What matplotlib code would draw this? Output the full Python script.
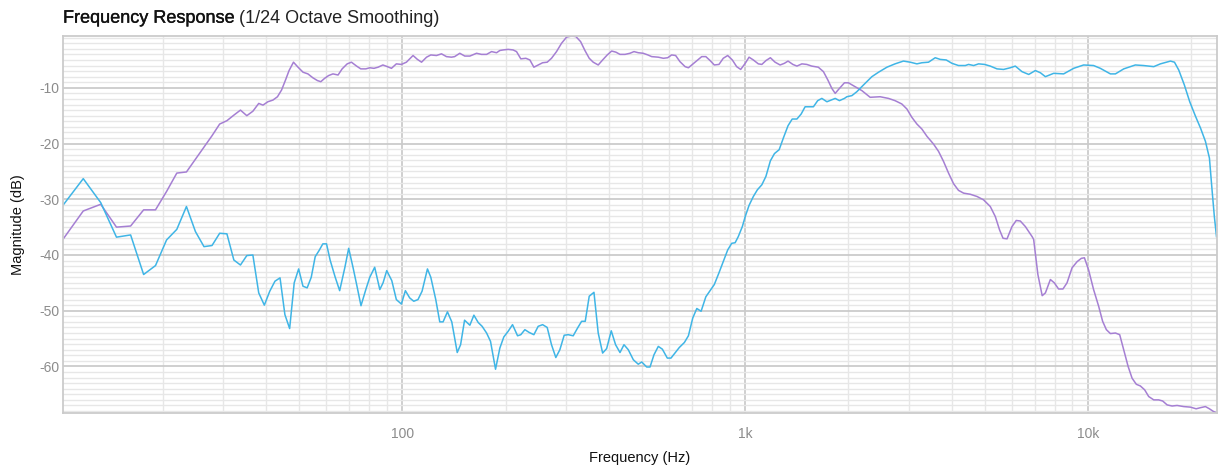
import matplotlib
matplotlib.use("Agg")
import matplotlib.pyplot as plt
import matplotlib.patheffects as pe
from matplotlib.ticker import FixedLocator, FixedFormatter, NullFormatter

plt.rcParams['font.family'] = ['Liberation Sans', 'DejaVu Sans']
plt.rcParams['axes.unicode_minus'] = False

# Low-frequency driver response (Hz, dB)
low_freq = [
    10.25, 11.72, 13.18, 14.65, 16.11, 17.58, 19.04, 20.51, 21.97, 23.44,
    24.90, 26.37, 27.83, 29.30, 30.76, 32.23, 33.69, 35.16, 36.62, 38.09,
    39.2, 40.5, 41.9, 43.2, 44.4, 45.6, 46.7, 48.1, 49.6, 51.3,
    53.0, 54.8, 56.5, 57.8, 59.3, 60.9, 62.7, 64.9, 66.7, 69.0,
    71.0, 73.5, 75.6, 78.2, 80.3, 82.6, 84.9, 87.7, 90.4, 92.9,
    96.0, 99.3, 102.7, 107.4, 110.6, 113.7, 117.6, 121.0, 125.7, 130.0,
    134.4, 139.0, 142.0, 147.0, 152.0, 157.3, 164.5, 170.1, 176.0, 182.0,
    188.2, 192.4, 196.7, 203.4, 210.3, 215.2, 221.5, 229.1, 235.4, 241.8,
    248.9, 256.4, 264.4, 272.2, 281.5, 291.2, 301.2, 311.5, 320.6, 330.9,
    340.7, 350.7, 360.2, 372.5, 383.7, 395.8, 407.7, 419.5, 431.2, 446.0,
    461.0, 473.7, 487.5, 504.0, 520.0, 533.5, 557.7, 577.0, 594.0, 610.0,
    626.6, 645.0, 667.7, 682.7, 714.0, 746.6, 767.5, 789.5, 812.4, 838.3,
    862.8, 888.8, 917.0, 944.0, 970.0, 1000, 1026, 1056, 1092, 1118,
    1150, 1184, 1222, 1264, 1301, 1333, 1377, 1415, 1463, 1512,
    1563, 1634, 1691, 1742, 1789, 1830, 1883, 1947, 2000, 2092,
    2189, 2314, 2475, 2618, 2735, 2863, 2962, 3063, 3168, 3276,
    3389, 3543, 3663, 3788, 3918, 4052, 4189, 4336, 4534, 4744,
    4957, 5186, 5364, 5520, 5650, 5804, 6000, 6175, 6345, 6564,
    6868, 6940, 7140, 7350, 7510, 7765, 7974, 8205, 8450, 8683,
    8983, 9290, 9560, 9760, 10040, 10380, 10740, 11030, 11310, 11620,
    12020, 12370, 12710, 13090, 13440, 13830, 14210, 14630, 15030, 15550,
    16070, 16510, 17010, 17590, 18190, 19010, 19890, 20670, 21280, 22000,
    22600, 23250, 23700,
]
low_db = [
    -37.1, -32.1, -30.9, -35.0, -34.8, -31.9, -31.9, -28.6, -25.3, -25.1,
    -22.8, -20.6, -18.6, -16.5, -15.9, -14.9, -14.0, -15.0, -14.2, -12.8,
    -13.1, -12.5, -12.2, -11.6, -10.4, -8.6, -6.9, -5.4, -6.3, -7.2,
    -7.5, -8.2, -8.7, -8.9, -8.3, -7.8, -7.5, -7.7, -6.6, -5.7,
    -5.4, -6.1, -6.6, -6.6, -6.4, -6.5, -6.3, -5.9, -6.2, -6.5,
    -5.7, -5.8, -5.4, -4.2, -4.9, -5.4, -4.5, -4.1, -4.2, -3.9,
    -4.4, -4.5, -4.4, -3.8, -4.3, -4.3, -3.8, -4.0, -4.0, -3.5,
    -3.7, -3.3, -3.2, -3.1, -3.2, -3.5, -4.8, -4.7, -5.0, -6.3,
    -5.9, -5.5, -5.4, -4.7, -3.5, -2.0, -0.9, -0.7, -0.8, -1.7,
    -3.3, -4.7, -5.4, -5.9, -5.0, -4.1, -3.4, -3.6, -4.0, -4.0,
    -3.8, -3.5, -3.7, -3.8, -4.1, -4.4, -4.5, -4.7, -4.6, -4.1,
    -4.2, -5.3, -6.2, -6.4, -5.4, -4.4, -4.4, -5.1, -5.9, -5.8,
    -4.7, -4.2, -5.0, -6.2, -6.7, -5.6, -4.5, -5.0, -5.7, -5.8,
    -5.1, -4.6, -5.4, -5.9, -5.6, -5.2, -5.8, -6.1, -5.7, -5.8,
    -6.1, -6.3, -7.1, -8.6, -10.1, -11.0, -10.1, -9.1, -9.1, -9.8,
    -10.5, -11.7, -11.6, -11.9, -12.3, -12.9, -13.8, -15.3, -16.5, -17.4,
    -18.7, -20.1, -21.4, -23.2, -25.3, -27.2, -28.4, -28.9, -29.1, -29.5,
    -30.1, -31.3, -33.1, -35.5, -37.0, -37.1, -34.9, -33.8, -33.9, -34.9,
    -36.7, -37.2, -43.5, -47.3, -46.8, -44.4, -45.0, -46.1, -46.1, -45.0,
    -42.3, -41.2, -40.6, -40.5, -42.7, -46.2, -49.2, -51.9, -53.4, -54.1,
    -54.0, -54.3, -57.0, -60.0, -62.1, -63.2, -63.5, -64.2, -65.4, -66.0,
    -66.0, -66.2, -66.9, -67.1, -67.0, -67.2, -67.3, -67.6, -67.4, -67.2,
    -67.6, -68.1, -68.3,
]

# High-frequency driver response (Hz, dB)
high_freq = [
    10.25, 11.72, 13.18, 14.65, 16.11, 17.58, 19.04, 20.51, 21.97, 23.44,
    24.90, 26.37, 27.83, 29.30, 30.76, 32.23, 33.69, 35.16, 36.62, 38.09,
    39.55, 41.02, 42.48, 43.95, 45.41, 46.88, 48.34, 49.80, 51.27, 52.73,
    54.20, 55.66, 57.13, 58.59, 60.06, 61.52, 63.6, 65.6, 67.9, 69.7,
    71.8, 73.7, 75.7, 78.2, 80.3, 83.0, 85.9, 87.8, 90.0, 93.1,
    96.0, 99.3, 102.0, 105.0, 107.9, 111.0, 114.1, 118.3, 121.0, 125.1,
    128.5, 131.4, 135.3, 139.3, 144.5, 147.8, 151.8, 157.3, 161.6, 166.3,
    170.8, 176.0, 180.7, 186.9, 192.4, 197.6, 203.4, 209.5, 216.7, 221.5,
    227.6, 234.3, 241.8, 248.9, 256.4, 264.4, 272.2, 280.2, 287.9, 296.4,
    304.5, 314.9, 324.3, 333.2, 341.4, 350.7, 362.0, 372.5, 383.7, 394.2,
    406.6, 418.6, 431.2, 442.9, 455.9, 471.6, 487.5, 499.0, 515.9, 527.5,
    541.8, 557.7, 573.1, 592.5, 607.3, 623.8, 642.2, 664.5, 682.7, 703.0,
    722.4, 743.4, 767.5, 789.5, 812.4, 838.3, 862.8, 888.8, 913.3, 934.4,
    954.4, 980.7, 1000, 1026, 1056, 1085, 1118, 1149, 1184, 1217,
    1256, 1292, 1333, 1371, 1415, 1456, 1495, 1536, 1581, 1627,
    1673, 1731, 1781, 1830, 1883, 1947, 1979, 2047, 2116, 2212,
    2341, 2448, 2590, 2735, 2894, 3029, 3168, 3276, 3425, 3583,
    3705, 3858, 4008, 4189, 4385, 4482, 4638, 4794, 4990, 5186,
    5425, 5671, 5933, 6135, 6418, 6714, 7020, 7264, 7510, 7937,
    8490, 9080, 9710, 10380, 10860, 11620, 12020, 12710, 13740, 14520,
    15550, 16260, 17400, 17870, 18390, 19100, 19800, 20580, 21280, 22000,
    22600, 23000, 23360, 23700,
]
high_db = [
    -31.0, -26.3, -30.6, -36.8, -36.4, -43.5, -41.9, -37.3, -35.4, -31.3,
    -35.8, -38.5, -38.3, -36.1, -36.2, -40.9, -41.8, -40.1, -40.0, -46.8,
    -49.0, -46.5, -44.7, -44.1, -50.7, -53.2, -45.0, -42.5, -45.6, -45.9,
    -44.0, -40.3, -39.2, -38.0, -38.0, -40.9, -43.9, -46.4, -42.3, -38.8,
    -42.3, -45.6, -49.1, -46.2, -44.0, -42.2, -46.2, -45.0, -42.8, -44.6,
    -48.0, -48.8, -46.4, -47.7, -48.3, -48.0, -46.5, -42.5, -44.0, -48.0,
    -52.0, -52.0, -50.2, -52.0, -57.5, -56.1, -51.7, -52.6, -50.8, -52.1,
    -52.8, -54.0, -55.5, -60.5, -56.7, -54.7, -53.7, -52.5, -54.5, -54.3,
    -53.4, -53.9, -54.3, -52.8, -52.5, -53.0, -56.1, -58.4, -57.0, -54.4,
    -54.3, -54.5, -53.1, -51.9, -51.9, -47.4, -46.7, -54.0, -57.6, -56.8,
    -53.6, -56.1, -57.5, -56.1, -57.0, -58.8, -59.6, -59.2, -60.1, -60.1,
    -57.9, -56.4, -56.9, -58.5, -58.5, -57.6, -56.6, -55.7, -54.5, -51.3,
    -49.6, -50.1, -47.5, -46.4, -45.3, -43.2, -41.2, -39.1, -37.9, -37.8,
    -36.7, -34.9, -33.1, -31.1, -29.5, -28.3, -27.4, -25.9, -23.1, -21.8,
    -21.1, -19.0, -16.8, -15.6, -15.6, -14.7, -13.4, -13.4, -13.4, -12.3,
    -11.9, -12.5, -12.2, -11.9, -12.3, -11.9, -11.6, -11.4, -10.7, -9.5,
    -8.0, -7.2, -6.3, -5.7, -5.2, -5.4, -5.7, -5.5, -5.4, -4.6,
    -4.9, -5.0, -5.6, -6.0, -6.0, -5.8, -6.0, -5.7, -5.8, -6.1,
    -6.6, -6.7, -6.4, -6.1, -7.1, -7.6, -6.9, -7.3, -8.0, -7.4,
    -7.5, -6.5, -5.9, -6.0, -6.5, -7.5, -7.5, -6.6, -5.9, -6.0,
    -6.2, -5.7, -5.2, -5.4, -6.8, -9.5, -12.5, -15.1, -17.2, -19.6,
    -22.6, -28.3, -33.1, -36.7,
]

x_major = [100, 1000, 10000]
x_major_labels = ["100", "1k", "10k"]
x_minor = [20, 30, 40, 50, 60, 70, 80, 90,
           200, 300, 400, 500, 600, 700, 800, 900,
           2000, 3000, 4000, 5000, 6000, 7000, 8000, 9000, 20000]
y_major = [-60, -50, -40, -30, -20, -10]

LOW_COLOR = "#a57fd3"
HIGH_COLOR = "#3fb5e6"

W, H = 1221, 475
fig = plt.figure(figsize=(W / 100, H / 100), dpi=100)
left, right, top, bottom = 63.3, 1216.5, 36.0, 412.7
ax = fig.add_axes([left / W, 1 - bottom / H, (right - left) / W, (bottom - top) / H])

ax.plot(low_freq, low_db, color=LOW_COLOR, lw=1.1, solid_joinstyle="round")
ax.plot(high_freq, high_db, color=HIGH_COLOR, lw=1.1, solid_joinstyle="round")

ax.set_xscale("log")
ax.set_xlim(min(low_freq + high_freq), max(low_freq + high_freq))
ax.set_ylim(min(low_db + high_db), max(low_db + high_db))

ax.xaxis.set_major_locator(FixedLocator(x_major))
ax.xaxis.set_major_formatter(FixedFormatter(x_major_labels))
ax.xaxis.set_minor_locator(FixedLocator(x_minor))
ax.xaxis.set_minor_formatter(NullFormatter())
ax.yaxis.set_major_locator(FixedLocator(y_major))
ax.yaxis.set_minor_locator(FixedLocator(list(range(-68, 0))))
ax.yaxis.set_minor_formatter(NullFormatter())

ax.grid(which="major", color="#cbcbcb", lw=1.3)
ax.grid(which="minor", color="#e7e7e7", lw=1.0)
ax.set_axisbelow(True)
for s in ax.spines.values():
    s.set_color("#cbcbcb")
    s.set_linewidth(1.3)

ax.tick_params(which="both", length=0)
ax.tick_params(axis="y", pad=3, labelsize=10, labelcolor="#8c8c8c")
ax.tick_params(axis="x", pad=10, labelsize=10, labelcolor="#8c8c8c")

ax.set_xlabel("Frequency (Hz)", fontsize=10.5, color="#111111")
ax.xaxis.label.set_va("center")
ax.xaxis.set_label_coords(0.5, (bottom - 458) / (bottom - top))
ax.set_ylabel("Magnitude (dB)", fontsize=10.5, color="#111111")
ax.yaxis.label.set_va("center")
ax.yaxis.set_label_coords((18 - left) / (right - left), 0.5)

t1 = fig.text(63 / W, 1 - 22.7 / H, "Frequency Response", fontsize=13,
              color="#111111", va="baseline", ha="left",
              path_effects=[pe.withStroke(linewidth=0.25, foreground="#111111")])
fig.canvas.draw()
bb = t1.get_window_extent(renderer=fig.canvas.get_renderer())
fig.text((bb.x1 + 5) / W, 1 - 22.7 / H, "(1/24 Octave Smoothing)", fontsize=13,
         color="#222222", va="baseline", ha="left")

fig.savefig("out.png", dpi=100)
